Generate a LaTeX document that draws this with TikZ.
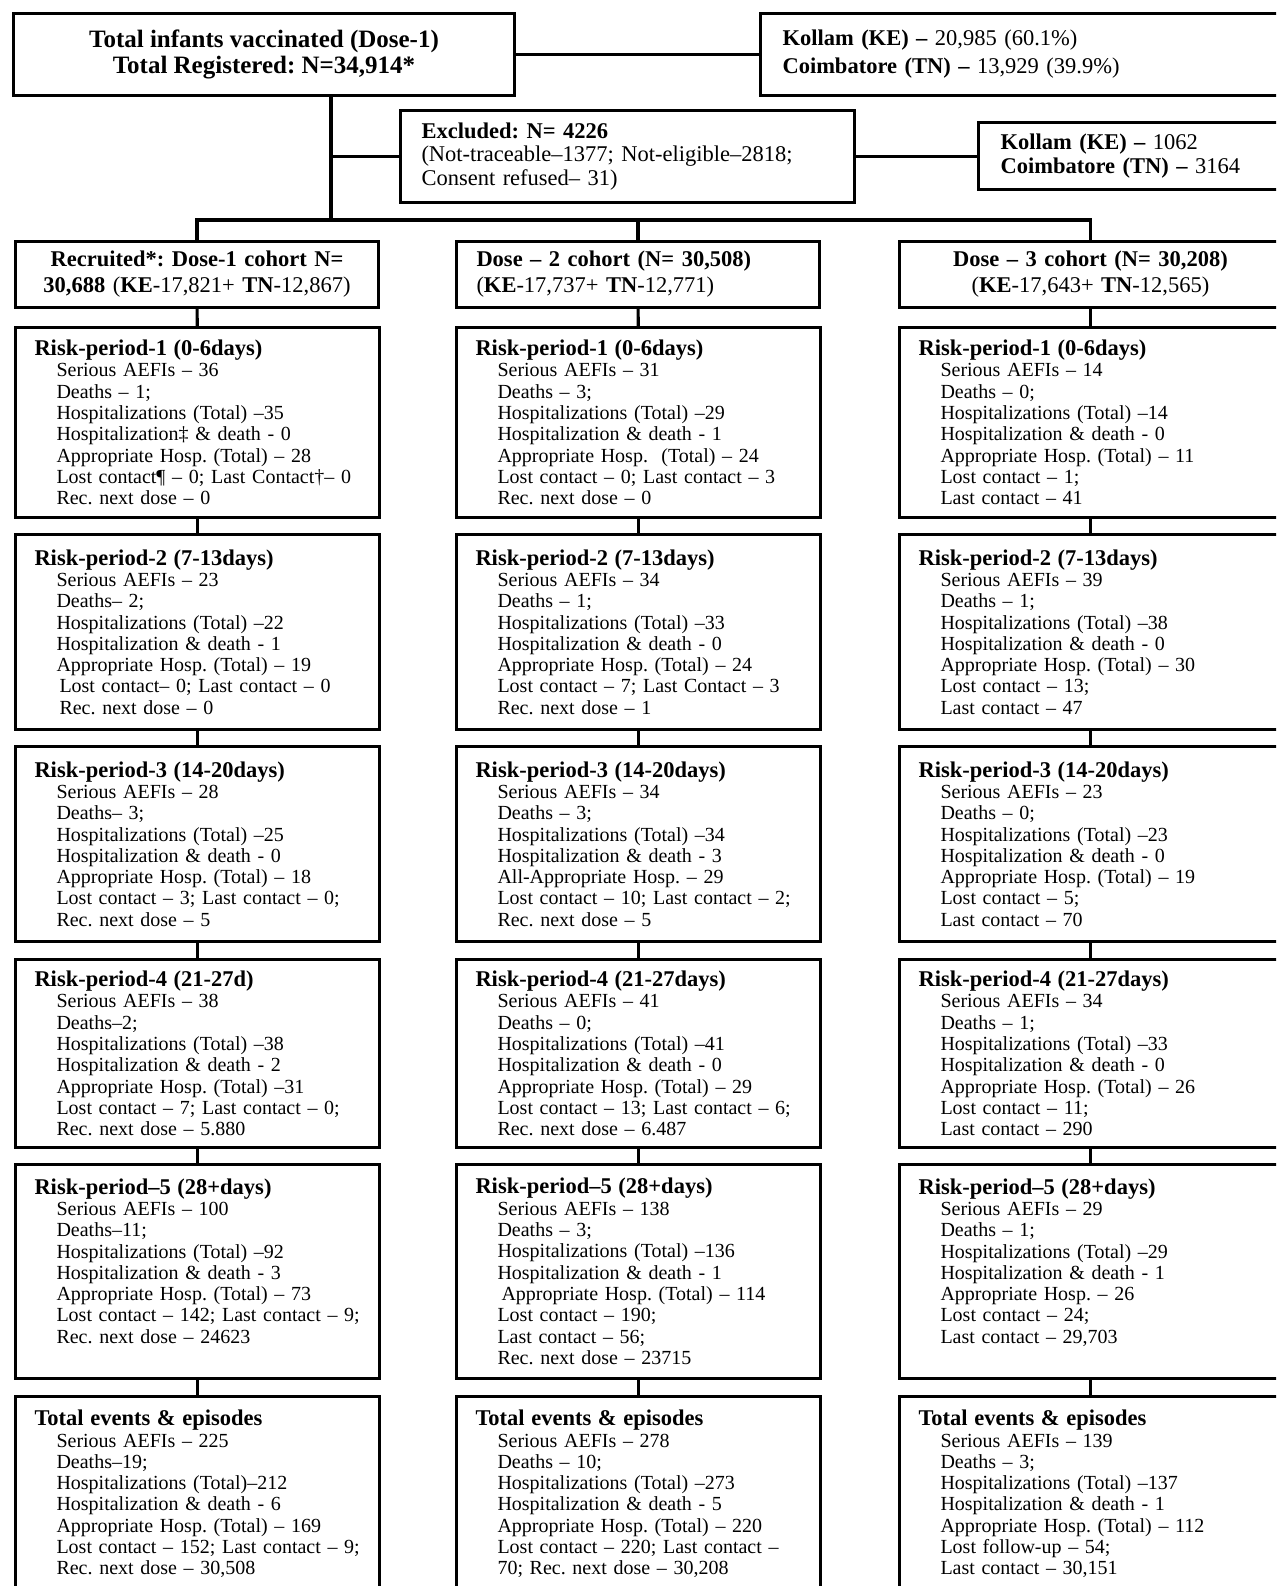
\documentclass[tikz,border=0pt]{standalone}
\usepackage{fontspec}
\setmainfont{Liberation Serif}
\usepackage{tikz}
\usetikzlibrary{positioning, calc}
\frenchspacing

\newcommand{\riskhead}[1]{{\fontsize{11.25}{10.65}\selectfont\bfseries #1}}
\newcommand{\riskitem}{\hspace*{11pt}}

\begin{document}
\begin{tikzpicture}[
    x=0.5pt, y=-0.5pt,
    box/.style={draw, rectangle, line width=1.5pt, inner sep=0pt},
    headbox/.style={box, anchor=north west, font=\fontsize{11.25}{13}\selectfont},
    riskbox/.style={box, anchor=north west, align=left, text width=163pt, inner xsep=9.5pt, inner ysep=3pt, font=\fontsize{10}{10.65}\selectfont},
    link/.style={line width=1.6pt}
]
\useasboundingbox (0,0) rectangle (1276,1586);
\clip (0,0) rectangle (1276,1586);

% Registration and exclusions
\node[headbox, minimum width=250.5pt, minimum height=41pt, align=center, font=\fontsize{12.5}{13}\selectfont\bfseries] (total) at (12,12)
  {Total infants vaccinated (Dose-1)\\Total Registered: N=34,914*};
\node[headbox, minimum height=41pt, text width=255pt, inner xsep=11pt, align=left, font=\fontsize{11.25}{14}\selectfont] (site) at (759,12)
  {\textbf{Kollam (KE) –} 20,985 (60.1\%)\\\textbf{Coimbatore (TN) –} 13,929 (39.9\%)};
\node[headbox, minimum height=46pt, text width=206pt, inner xsep=10.5pt, align=left, font=\fontsize{11.25}{11.75}\selectfont] (excl) at (399,109)
  {\textbf{Excluded: N= 4226}\\(Not-traceable–1377; Not-eligible–2818;\\Consent refused– 31)};
\node[headbox, minimum height=33.5pt, text width=150pt, inner xsep=11pt, align=left, font=\fontsize{11.25}{12.25}\selectfont] (exclsite) at (977,121)
  {\textbf{Kollam (KE) –} 1062\\\textbf{Coimbatore (TN) –} 3164};
\coordinate (split) at (331,220);

% Cohorts
\node[headbox, minimum height=33pt, text width=161.5pt, inner xsep=10pt, align=center] (dose1) at (14,240)
  {\textbf{Recruited*: Dose-1 cohort N=}\\\textbf{30,688} (\textbf{KE}-17,821+ \textbf{TN}-12,867)};
\node[headbox, minimum height=33pt, text width=161.5pt, inner xsep=10pt, align=left] (dose2) at (455,240)
  {\textbf{Dose – 2 cohort (N= 30,508)}\\(\textbf{KE}-17,737+ \textbf{TN}-12,771)};
\node[headbox, minimum height=33pt, text width=171pt, inner xsep=10pt, align=center] (dose3) at (898,240)
  {\textbf{Dose – 3 cohort (N= 30,208)}\\(\textbf{KE}-17,643+ \textbf{TN}-12,565)};

% Dose-1 risk periods
\node[riskbox, minimum height=95pt] (c1-r1) at (14,326)
  {\riskhead{Risk-period-1 (0-6days)}\\\riskitem Serious AEFIs – 36\\\riskitem Deaths – 1;\\\riskitem Hospitalizations (Total) –35\\\riskitem Hospitalization‡ \& death - 0\\\riskitem Appropriate Hosp. (Total) – 28\\\riskitem Lost contact¶ – 0; Last Contact†– 0\\\riskitem Rec. next dose – 0};
\node[riskbox, minimum height=97.5pt] (c1-r2) at (14,533)
  {\riskhead{Risk-period-2 (7-13days)}\\\riskitem Serious AEFIs – 23\\\riskitem Deaths– 2;\\\riskitem Hospitalizations (Total) –22\\\riskitem Hospitalization \& death - 1\\\riskitem Appropriate Hosp. (Total) – 19\\\riskitem\hspace*{1.5pt}Lost contact– 0; Last contact – 0\\\riskitem\hspace*{1.5pt}Rec. next dose – 0};
\node[riskbox, minimum height=97.5pt] (c1-r3) at (14,745)
  {\riskhead{Risk-period-3 (14-20days)}\\\riskitem Serious AEFIs – 28\\\riskitem Deaths– 3;\\\riskitem Hospitalizations (Total) –25\\\riskitem Hospitalization \& death - 0\\\riskitem Appropriate Hosp. (Total) – 18\\\riskitem Lost contact – 3; Last contact – 0;\\\riskitem Rec. next dose – 5};
\node[riskbox, minimum height=94pt] (c1-r4) at (14,958)
  {\riskhead{Risk-period-4 (21-27d)}\\\riskitem Serious AEFIs – 38\\\riskitem Deaths–2;\\\riskitem Hospitalizations (Total) –38\\\riskitem Hospitalization \& death - 2\\\riskitem Appropriate Hosp. (Total) –31\\\riskitem Lost contact – 7; Last contact – 0;\\\riskitem Rec. next dose – 5.880};
\node[riskbox, minimum height=107pt] (c1-r5) at (14,1163)
  {\riskhead{Risk-period–5 (28+days)}\\\riskitem Serious AEFIs – 100\\\riskitem Deaths–11;\\\riskitem Hospitalizations (Total) –92\\\riskitem Hospitalization \& death - 3\\\riskitem Appropriate Hosp. (Total) – 73\\\riskitem\mbox{Lost contact – 142; Last contact – 9;}\\\riskitem Rec. next dose – 24623\\\mbox{}};
\node[riskbox, minimum height=97.5pt] (c1-r6) at (14,1395)
  {\riskhead{Total events \& episodes}\\\riskitem Serious AEFIs – 225\\\riskitem Deaths–19;\\\riskitem Hospitalizations (Total)–212\\\riskitem Hospitalization \& death - 6\\\riskitem Appropriate Hosp. (Total) – 169\\\riskitem\mbox{Lost contact – 152; Last contact – 9;}\\\riskitem Rec. next dose – 30,508};

% Dose-2 risk periods
\node[riskbox, minimum height=95pt] (c2-r1) at (455,326)
  {\riskhead{Risk-period-1 (0-6days)}\\\riskitem Serious AEFIs – 31\\\riskitem Deaths – 3;\\\riskitem Hospitalizations (Total) –29\\\riskitem Hospitalization \& death - 1\\\riskitem Appropriate Hosp.\ \ (Total) – 24\\\riskitem Lost contact – 0; Last contact – 3\\\riskitem Rec. next dose – 0};
\node[riskbox, minimum height=97.5pt] (c2-r2) at (455,533)
  {\riskhead{Risk-period-2 (7-13days)}\\\riskitem Serious AEFIs – 34\\\riskitem Deaths – 1;\\\riskitem Hospitalizations (Total) –33\\\riskitem Hospitalization \& death - 0\\\riskitem Appropriate Hosp. (Total) – 24\\\riskitem Lost contact – 7; Last Contact – 3\\\riskitem Rec. next dose – 1};
\node[riskbox, minimum height=97.5pt] (c2-r3) at (455,745)
  {\riskhead{Risk-period-3 (14-20days)}\\\riskitem Serious AEFIs – 34\\\riskitem Deaths – 3;\\\riskitem Hospitalizations (Total) –34\\\riskitem Hospitalization \& death - 3\\\riskitem All-Appropriate Hosp. – 29\\\riskitem\mbox{Lost contact – 10; Last contact – 2;}\\\riskitem Rec. next dose – 5};
\node[riskbox, minimum height=94pt] (c2-r4) at (455,958)
  {\riskhead{Risk-period-4 (21-27days)}\\\riskitem Serious AEFIs – 41\\\riskitem Deaths – 0;\\\riskitem Hospitalizations (Total) –41\\\riskitem Hospitalization \& death - 0\\\riskitem Appropriate Hosp. (Total) – 29\\\riskitem\mbox{Lost contact – 13; Last contact – 6;}\\\riskitem Rec. next dose – 6.487};
\node[riskbox, minimum height=107pt] (c2-r5) at (455,1163)
  {\riskhead{Risk-period–5 (28+days)}\\\riskitem Serious AEFIs – 138\\\riskitem Deaths – 3;\\\riskitem Hospitalizations (Total) –136\\\riskitem Hospitalization \& death - 1\\\riskitem\hspace*{2pt}Appropriate Hosp. (Total) – 114\\\riskitem Lost contact – 190;\\\riskitem Last contact – 56;\\\riskitem Rec. next dose – 23715};
\node[riskbox, minimum height=97.5pt] (c2-r6) at (455,1395)
  {\riskhead{Total events \& episodes}\\\riskitem Serious AEFIs – 278\\\riskitem Deaths – 10;\\\riskitem Hospitalizations (Total) –273\\\riskitem Hospitalization \& death - 5\\\riskitem Appropriate Hosp. (Total) – 220\\\riskitem\mbox{Lost contact – 220; Last contact –}\\\riskitem 70; Rec. next dose – 30,208};

% Dose-3 risk periods
\node[riskbox, text width=172pt, minimum height=95pt] (c3-r1) at (898,326)
  {\riskhead{Risk-period-1 (0-6days)}\\\riskitem Serious AEFIs – 14\\\riskitem Deaths – 0;\\\riskitem Hospitalizations (Total) –14\\\riskitem Hospitalization \& death - 0\\\riskitem Appropriate Hosp. (Total) – 11\\\riskitem Lost contact – 1;\\\riskitem Last contact – 41};
\node[riskbox, text width=172pt, minimum height=97.5pt] (c3-r2) at (898,533)
  {\riskhead{Risk-period-2 (7-13days)}\\\riskitem Serious AEFIs – 39\\\riskitem Deaths – 1;\\\riskitem Hospitalizations (Total) –38\\\riskitem Hospitalization \& death - 0\\\riskitem Appropriate Hosp. (Total) – 30\\\riskitem Lost contact – 13;\\\riskitem Last contact – 47};
\node[riskbox, text width=172pt, minimum height=97.5pt] (c3-r3) at (898,745)
  {\riskhead{Risk-period-3 (14-20days)}\\\riskitem Serious AEFIs – 23\\\riskitem Deaths – 0;\\\riskitem Hospitalizations (Total) –23\\\riskitem Hospitalization \& death - 0\\\riskitem Appropriate Hosp. (Total) – 19\\\riskitem Lost contact – 5;\\\riskitem Last contact – 70};
\node[riskbox, text width=172pt, minimum height=94pt] (c3-r4) at (898,958)
  {\riskhead{Risk-period-4 (21-27days)}\\\riskitem Serious AEFIs – 34\\\riskitem Deaths – 1;\\\riskitem Hospitalizations (Total) –33\\\riskitem Hospitalization \& death - 0\\\riskitem Appropriate Hosp. (Total) – 26\\\riskitem Lost contact – 11;\\\riskitem Last contact – 290};
\node[riskbox, text width=172pt, minimum height=107pt] (c3-r5) at (898,1163)
  {\riskhead{Risk-period–5 (28+days)}\\\riskitem Serious AEFIs – 29\\\riskitem Deaths – 1;\\\riskitem Hospitalizations (Total) –29\\\riskitem Hospitalization \& death - 1\\\riskitem Appropriate Hosp. – 26\\\riskitem Lost contact – 24;\\\riskitem Last contact – 29,703\\\mbox{}};
\node[riskbox, text width=172pt, minimum height=97.5pt] (c3-r6) at (898,1395)
  {\riskhead{Total events \& episodes}\\\riskitem Serious AEFIs – 139\\\riskitem Deaths – 3;\\\riskitem Hospitalizations (Total) –137\\\riskitem Hospitalization \& death - 1\\\riskitem Appropriate Hosp. (Total) – 112\\\riskitem Lost follow-up – 54;\\\riskitem Last contact – 30,151};

% Connectors
\draw[link] (total) -- (site);
\draw[link] (split |- total.south) -- (split);
\draw[link] (excl.west) -- (excl.west -| split);
\draw[link] (excl.east) -- (excl.east -| exclsite.west);
\draw[link] (dose1.north) |- (split) -| (dose3.north);
\draw[link] (split -| dose2.north) -- (dose2.north);
\foreach \c in {1,2,3} {
  \draw[link] (dose\c) -- (c\c-r1);
  \foreach \r [count=\n from 2] in {1,...,5}
    \draw[link] (c\c-r\r) -- (c\c-r\n);
}
\end{tikzpicture}
\end{document}
